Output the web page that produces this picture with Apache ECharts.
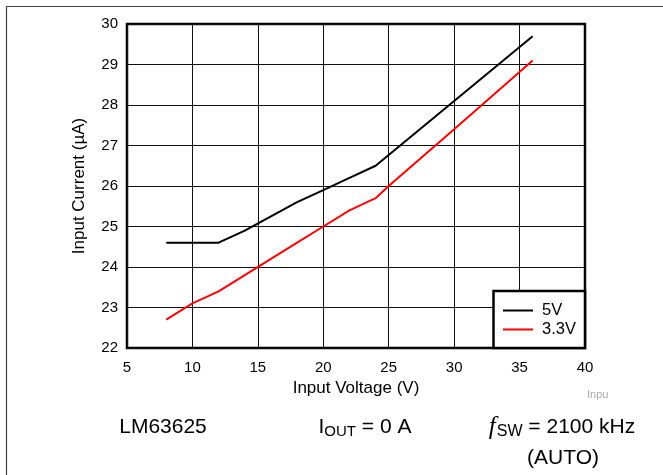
<!DOCTYPE html>
<html>
<head>
<meta charset="utf-8">
<script src="https://cdn.jsdelivr.net/npm/echarts@6/dist/echarts.min.js"></script>
<style>
html,body{margin:0;padding:0;background:#fff;}
#chart{width:663px;height:475px;}
</style>
</head>
<body>
<div id="chart"></div>
<script>
// Data
const xTicks = [5, 10, 15, 20, 25, 30, 35, 40];
const yTicks = [22, 23, 24, 25, 26, 27, 28, 29, 30];
const v5_x = [8, 10, 12, 14, 16, 18, 20, 22, 24, 30, 36];
const v5_y = [24.6, 24.6, 24.6, 24.9, 25.25, 25.6, 25.9, 26.2, 26.5, 28.1, 29.7];
const v33_x = [8, 10, 12, 14, 16, 18, 20, 22, 24, 25, 30, 36];
const v33_y = [22.7, 23.1, 23.4, 23.8, 24.2, 24.6, 25.0, 25.4, 25.7, 26.0, 27.4, 29.1];
const seriesNames = ['5V', '3.3V'];

const FONT = 'Liberation Sans, Arial, sans-serif';
const chart = echarts.init(document.getElementById('chart'), null, {renderer: 'canvas'});

function pairs(xs, ys) { return xs.map((x, i) => [x, ys[i]]); }

const option = {
  animation: false,
  backgroundColor: '#fff',
  grid: {
    left: 127, top: 24, width: 458, height: 324,
    show: true, borderColor: '#000', borderWidth: 2.5, backgroundColor: 'transparent'
  },
  xAxis: {
    type: 'value', min: xTicks[0], max: xTicks[xTicks.length - 1], interval: 5,
    name: 'Input Voltage (V)', nameLocation: 'middle', nameGap: 30,
    nameTextStyle: {fontSize: 17, color: '#000', fontFamily: FONT},
    axisLine: {show: false}, axisTick: {show: false},
    axisLabel: {fontSize: 15, color: '#000', fontFamily: FONT, margin: 12},
    splitLine: {show: true, lineStyle: {color: '#111', width: 1}}
  },
  yAxis: {
    type: 'value', min: yTicks[0], max: yTicks[yTicks.length - 1], interval: 1,
    name: 'Input Current (\u00b5A)', nameLocation: 'middle', nameGap: 39,
    nameTextStyle: {fontSize: 17, color: '#000', fontFamily: FONT},
    axisLine: {show: false}, axisTick: {show: false},
    axisLabel: {fontSize: 15, color: '#000', fontFamily: FONT, margin: 9},
    splitLine: {show: true, lineStyle: {color: '#111', width: 1}}
  },
  legend: {
    orient: 'vertical', left: 498, top: 297, z: 100,
    itemWidth: 30, itemHeight: 14, itemGap: 2,
    icon: 'path://M0,6L30,6L30,8L0,8Z',
    textStyle: {fontSize: 16.5, color: '#000', fontFamily: FONT, padding: [0, 0, 0, 4]},
    data: seriesNames
  },
  series: [
    {name: seriesNames[0], type: 'line', data: pairs(v5_x, v5_y), symbol: 'none',
     lineStyle: {color: '#000', width: 2}, itemStyle: {color: '#000'}, z: 5},
    {name: seriesNames[1], type: 'line', data: pairs(v33_x, v33_y), symbol: 'none',
     lineStyle: {color: '#ff0000', width: 2}, itemStyle: {color: '#ff0000'}, z: 5}
  ],
  graphic: [
    {type: 'rect', z: -10, silent: true, shape: {x: 6.5, y: 6.5, width: 700, height: 500},
     style: {fill: 'none', stroke: '#444', lineWidth: 1.2}},
    {type: 'rect', z: 50, silent: true, shape: {x: 493.5, y: 291, width: 91.5, height: 57},
     style: {fill: '#fff', stroke: '#000', lineWidth: 2.5}},
    {type: 'text', left: 587, top: 389, z: 10,
     style: {text: 'Inpu', fontSize: 11, fill: '#aaa', fontFamily: FONT}},
    {type: 'text', z: 10, x: 163, y: 427,
     style: {text: 'LM63625', fontSize: 21, fill: '#000', fontFamily: FONT, align: 'center', verticalAlign: 'middle'}},
    {type: 'text', z: 10, x: 365, y: 427,
     style: {
       text: '{a|I}{b|OUT}{a| = 0 A}', align: 'center', verticalAlign: 'middle',
       rich: {
         a: {fontSize: 21, fontFamily: FONT, fill: '#000', lineHeight: 25, verticalAlign: 'middle'},
         b: {fontSize: 15, fontFamily: FONT, fill: '#000', lineHeight: 15, verticalAlign: 'bottom'}
       }
     }},
    {type: 'text', z: 10, x: 562, y: 427,
     style: {
       text: '{f|f}{b|SW}{a| = 2100 kHz}', align: 'center', verticalAlign: 'middle',
       rich: {
         f: {fontSize: 25, fontFamily: 'Liberation Serif, serif', fontStyle: 'italic', fill: '#000', lineHeight: 25, verticalAlign: 'middle', padding: [0, 1, 0, 0]},
         a: {fontSize: 21, fontFamily: FONT, fill: '#000', lineHeight: 25, verticalAlign: 'middle'},
         b: {fontSize: 16, fontFamily: FONT, fill: '#000', lineHeight: 17, verticalAlign: 'bottom'}
       }
     }},
    {type: 'text', z: 10, x: 563, y: 458,
     style: {text: '(AUTO)', fontSize: 21, fill: '#000', fontFamily: FONT, align: 'center', verticalAlign: 'middle'}}
  ]
};
chart.setOption(option);
</script>
</body>
</html>
